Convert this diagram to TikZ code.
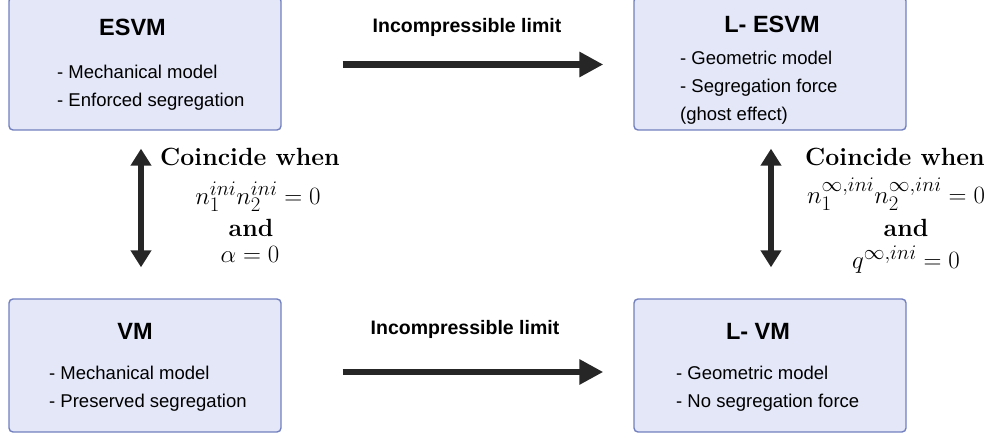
\documentclass[tikz,border=0pt]{standalone}
\usepackage{fontspec}
\newfontfamily\boxfont{Liberation Sans}
\usetikzlibrary{arrows.meta,positioning}
\definecolor{boxfill}{HTML}{E3E7F8}
\definecolor{boxedge}{HTML}{7280BF}
\definecolor{arrowgray}{HTML}{262626}

\begin{document}
\begin{tikzpicture}[x=1pt, y=-1pt, node distance = 625pt]
	\tikzset{BoxStyle/.style = {
			shape=rectangle,
			rounded corners=4pt,
			draw=boxedge, fill=boxfill, line width=1.4pt,
			minimum width=272pt, minimum height=133pt
	}}
	\tikzset{TitleStyle/.style = {font=\boxfont\bfseries\fontsize{23.5}{28}\selectfont, inner sep=0pt, anchor=base}}
	\tikzset{ItemStyle/.style = {font=\boxfont\fontsize{18.5}{22}\selectfont, inner sep=0pt, anchor=base west}}
	\tikzset{LimitStyle/.style = {font=\boxfont\bfseries\fontsize{19.5}{24}\selectfont, inner sep=0pt, anchor=base}}
	\tikzset{CondStyle/.style = {font=\Huge, inner sep=0pt, anchor=base}}
	\tikzset{LongArrow/.style = {line width=6.5pt, draw=arrowgray, -{Triangle[length=24pt,width=24pt]}}}
	\tikzset{BothArrow/.style = {line width=5.5pt, draw=arrowgray, {Triangle[length=17pt,width=20pt]}-{Triangle[length=17pt,width=20pt]}}}
	\useasboundingbox (0,0) rectangle (994,435);

	% the four models
	\node[BoxStyle] (esvm) at (145,63.5) {};
	\node[BoxStyle, right of= esvm] (lesvm) {};
	\node[BoxStyle, below of= esvm, node distance=302pt] (vm) {};
	\node[BoxStyle, right of= vm] (lvm) {};

	\node[TitleStyle] (esvm-t) at (132.5,35.7) {ESVM};
	\node[ItemStyle] (esvm-a) at (57,79) {- Mechanical model};
	\node[ItemStyle] (esvm-b) at (57,107) {- Enforced segregation};

	\node[TitleStyle] (lesvm-t) at (772,33) {L- ESVM};
	\node[ItemStyle] (lesvm-a) at (680,65) {- Geometric model};
	\node[ItemStyle] (lesvm-b) at (680,93) {- Segregation force};
	\node[ItemStyle] (lesvm-c) at (680,120.5) {(ghost effect)};

	\node[TitleStyle] (vm-t) at (135,340) {VM};
	\node[ItemStyle] (vm-a) at (49,380) {- Mechanical model};
	\node[ItemStyle] (vm-b) at (49,408) {- Preserved segregation};

	\node[TitleStyle] (lvm-t) at (758,340) {L- VM};
	\node[ItemStyle] (lvm-a) at (676,380) {- Geometric model};
	\node[ItemStyle] (lvm-b) at (676,408) {- No segregation force};

	% limits
	\node[LimitStyle] (lim-top) at (467,33) {Incompressible limit};
	\node[LimitStyle] (lim-bot) at (465,335) {Incompressible limit};
	\draw[LongArrow, shorten <=61pt, shorten >=30pt] ([yshift=-1pt]esvm.east) -- ([yshift=-1pt]lesvm.west);
	\draw[LongArrow, shorten <=61pt, shorten >=30pt] ([yshift=-6.5pt]vm.east) -- ([yshift=-6.5pt]lvm.west);

	% coincidence conditions
	\draw[BothArrow, shorten <=18pt, shorten >=31pt] ([xshift=-4pt]esvm.south) -- ([xshift=-4pt]vm.north);
	\draw[BothArrow, shorten <=18pt, shorten >=31pt] ([xshift=1pt]lesvm.south) -- ([xshift=1pt]lvm.north);

	\node[CondStyle] (cond-l1) at (250,166) {\textbf{Coincide when}};
	\node[CondStyle] (cond-l2) at (258,205) {$n_1^{ini}n_2^{ini}=0$};
	\node[CondStyle] (cond-l3) at (251,237) {\textbf{and}};
	\node[CondStyle] (cond-l4) at (250,263) {$\alpha=0$};

	\node[CondStyle] (cond-r1) at (895,166) {\textbf{Coincide when}};
	\node[CondStyle] (cond-r2) at (896,204) {$n_1^{\infty,ini}n_2^{\infty,ini}=0$};
	\node[CondStyle] (cond-r3) at (906,237) {\textbf{and}};
	\node[CondStyle] (cond-r4) at (906,269) {$q^{\infty,ini}=0$};
\end{tikzpicture}
\end{document}
